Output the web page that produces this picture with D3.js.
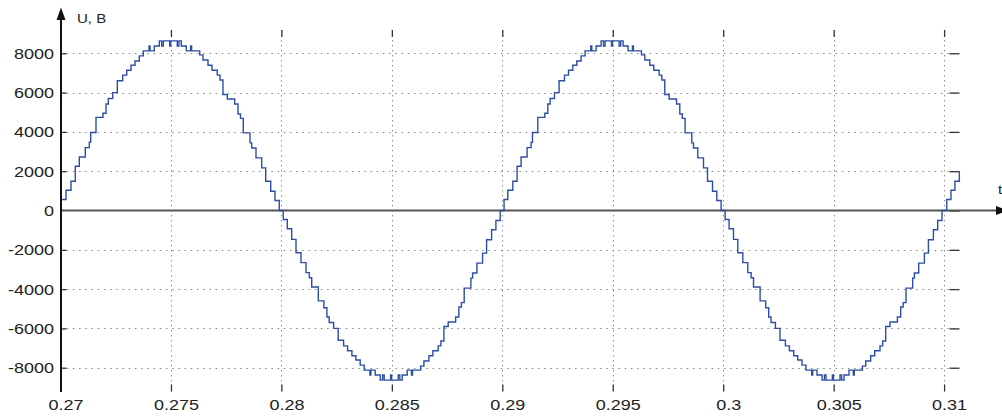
<!DOCTYPE html>
<html><head><meta charset="utf-8">
<script src="https://cdn.jsdelivr.net/npm/d3@7"></script>
<style>html,body{margin:0;padding:0;background:#fff;overflow:hidden}text{font-family:"Liberation Sans",Arial,Helvetica,sans-serif}</style>
</head><body><svg id="c" width="1002" height="416"></svg>
<script>
// ---- data ----
const xTickValues = [270, 275, 280, 285, 290, 295, 300, 305, 310]; // ms
const xTickLabels = ["0.27", "0.275", "0.28", "0.285", "0.29", "0.295", "0.3", "0.305", "0.31"];
const yTickValues = [-8000, -6000, -4000, -2000, 0, 2000, 4000, 6000, 8000];
const yTickLabels = ["-8000", "-6000", "-4000", "-2000", "0", "2000", "4000", "6000", "8000"];
const yAxisTitle = "U, В";
const xAxisTitle = "t, c";

// step waveform: switching instants (ms) and the voltage held after each (V)
const timeMs = [
  270.000,270.030,270.249,270.475,270.670,270.851,271.123,271.304,271.367,271.607,
  271.924,272.060,272.164,272.363,272.571,272.816,272.997,273.192,273.373,273.567,
  273.748,274.006,274.052,274.246,274.473,274.581,274.654,274.943,274.989,275.287,
  275.360,275.468,275.695,275.890,275.935,276.301,276.451,276.677,276.858,277.098,
  277.220,277.356,277.551,277.886,278.035,278.148,278.275,278.578,278.655,278.850,
  279.108,279.289,279.516,279.710,279.905,
  280.086,280.267,280.466,280.661,280.887,281.113,281.263,281.372,281.671,
  281.924,282.060,282.164,282.363,282.571,282.816,282.997,283.192,283.373,283.567,
  283.748,284.006,284.052,284.246,284.473,284.581,284.654,284.943,284.989,285.287,
  285.360,285.468,285.695,285.890,285.935,286.301,286.451,286.677,286.858,287.098,
  287.220,287.356,287.551,287.886,288.035,288.148,288.275,288.578,288.655,288.850,
  289.108,289.289,289.516,289.710,289.905,
  290.080,290.249,290.475,290.670,290.851,291.123,291.304,291.367,291.607,
  291.924,292.060,292.164,292.363,292.571,292.816,292.997,293.192,293.373,293.567,
  293.748,294.006,294.052,294.246,294.473,294.581,294.654,294.943,294.989,295.287,
  295.360,295.468,295.695,295.890,295.935,296.301,296.451,296.677,296.858,297.098,
  297.220,297.356,297.551,297.886,298.035,298.148,298.275,298.578,298.655,298.850,
  299.108,299.289,299.516,299.710,299.905,
  300.086,300.267,300.466,300.661,300.887,301.113,301.263,301.372,301.671,
  301.924,302.060,302.164,302.363,302.571,302.816,302.997,303.192,303.373,303.567,
  303.748,304.006,304.052,304.246,304.473,304.581,304.654,304.943,304.989,305.287,
  305.360,305.468,305.695,305.890,305.935,306.301,306.451,306.677,306.858,307.098,
  307.220,307.356,307.551,307.886,308.035,308.148,308.275,308.578,308.655,308.850,
  309.108,309.289,309.516,309.710,309.905,
  310.120,310.310,310.490,310.690
];
const voltageV = [
  0,560,1030,1490,2250,2720,3200,3470,3970,4740,
  4950,5420,5700,6000,6600,6890,7140,7390,7610,7870,
  8120,8370,8120,8370,8630,8370,8630,8370,8630,8370,
  8630,8370,8120,8370,8120,7920,7660,7390,7140,6890,
  6640,5900,5670,5420,4910,4690,3950,3440,3180,2680,
  2170,1490,980,510,0,
  -460,-930,-1470,-2150,-2650,-3160,-3420,-3890,-4600,
  -4950,-5420,-5700,-6000,-6600,-6890,-7140,-7390,-7610,-7870,
  -8120,-8370,-8120,-8370,-8630,-8370,-8630,-8370,-8630,-8370,
  -8630,-8370,-8120,-8370,-8120,-7920,-7660,-7390,-7140,-6890,
  -6640,-5900,-5670,-5420,-4910,-4690,-3950,-3440,-3180,-2680,
  -2170,-1490,-980,-510,0,
  560,1030,1490,2250,2720,3200,3470,3970,4740,
  4950,5420,5700,6000,6600,6890,7140,7390,7610,7870,
  8120,8370,8120,8370,8630,8370,8630,8370,8630,8370,
  8630,8370,8120,8370,8120,7920,7660,7390,7140,6890,
  6640,5900,5670,5420,4910,4690,3950,3440,3180,2680,
  2170,1490,980,510,0,
  -460,-930,-1470,-2150,-2650,-3160,-3420,-3890,-4600,
  -4950,-5420,-5700,-6000,-6600,-6890,-7140,-7390,-7610,-7870,
  -8120,-8370,-8120,-8370,-8630,-8370,-8630,-8370,-8630,-8370,
  -8630,-8370,-8120,-8370,-8120,-7920,-7660,-7390,-7140,-6890,
  -6640,-5900,-5670,-5420,-4910,-4690,-3950,-3440,-3180,-2680,
  -2170,-1490,-980,-510,0,
  560,1030,1490,2000
];

// ---- layout ----
const svg = d3.select("#c");
const L = 60.5, R = 959.5, T = 30, B = 391.5;
const x = d3.scaleLinear().domain([270, 310]).range([60.5, 944.1]);
const y = d3.scaleLinear().domain([-9200, 9200]).range([391.3, 29.7]);
const SX = 1.2; // horizontal stretch of the lettering

// grid
const g = svg.append("g");
g.selectAll("line.hg").data(yTickValues.filter(v => v !== 0)).enter().append("line")
  .attr("x1", L).attr("x2", R).attr("y1", d => Math.round(y(d)) + 0.5).attr("y2", d => Math.round(y(d)) + 0.5)
  .attr("stroke", "#8a8a8a").attr("stroke-width", 1).attr("stroke-dasharray", "1.6,4.6");
g.selectAll("line.vg").data(xTickValues.slice(1)).enter().append("line")
  .attr("x1", d => Math.round(x(d)) + 0.5).attr("x2", d => Math.round(x(d)) + 0.5)
  .attr("y1", T).attr("y2", B)
  .attr("stroke", "#8a8a8a").attr("stroke-width", 1).attr("stroke-dasharray", "1.4,3.6");

// frame ticks via d3 axes
const xb = d3.axisBottom(x).tickValues(xTickValues.slice(1)).tickSizeInner(-7).tickSizeOuter(0).tickFormat("");
const xt = d3.axisTop(x).tickValues(xTickValues.slice(1)).tickSizeInner(-7).tickSizeOuter(0).tickFormat("");
const yr = d3.axisRight(y).tickValues(yTickValues).tickSizeInner(-10).tickSizeOuter(0).tickFormat("");
const yl = d3.axisLeft(y).tickValues(yTickValues.filter(v => v !== 0)).tickSizeInner(-6).tickSizeOuter(0).tickFormat("");
function styleAxis(sel) { sel.select(".domain").remove(); sel.selectAll("line").attr("stroke", "#333").attr("stroke-width", 1.3); }
svg.append("g").attr("transform", `translate(0,${B})`).call(xb).call(styleAxis);
svg.append("g").attr("transform", `translate(0,${T})`).call(xt).call(styleAxis);
svg.append("g").attr("transform", `translate(${R},0)`).call(yr).call(styleAxis);
svg.append("g").attr("transform", `translate(${L},0)`).call(yl).call(styleAxis);

// zero axis with arrow
svg.append("line").attr("x1", L).attr("x2", 998).attr("y1", y(0)).attr("y2", y(0))
  .attr("stroke", "#555").attr("stroke-width", 2);
svg.append("path").attr("d", `M996,${y(0) - 4.5}L1008,${y(0)}L996,${y(0) + 4.5}Z`).attr("fill", "#111");

// signal
const line = d3.line().x(i => x(timeMs[i])).y(i => y(voltageV[i])).curve(d3.curveStepAfter);
svg.append("path").attr("d", line(d3.range(timeMs.length)))
  .attr("fill", "none").attr("stroke", "#2c4ea4").attr("stroke-width", 1.4).attr("stroke-linejoin", "miter");

// vertical axis with arrow
svg.append("line").attr("x1", 61).attr("x2", 61).attr("y1", B + 0.5).attr("y2", 16)
  .attr("stroke", "#111").attr("stroke-width", 2);
svg.append("path").attr("d", "M56.5,20L61,7.5L65.5,20Z").attr("fill", "#111");

// labels
function stretchedText(parent, tx, ty, str, size, anchor) {
  return parent.append("text").attr("transform", `translate(${tx},${ty}) scale(${SX},1)`)
    .attr("text-anchor", anchor).attr("font-size", size).attr("fill", "#222").text(str);
}
xTickValues.forEach((v, i) => stretchedText(svg, x(v) + 5.5, 410, xTickLabels[i], 15, "middle"));
yTickValues.forEach((v, i) => stretchedText(svg, 54, y(v) + 5.4, yTickLabels[i], 15, "end"));
stretchedText(svg, 77, 22.5, yAxisTitle, 12.5, "start");
stretchedText(svg, 998, 194, xAxisTitle, 12.5, "start");
</script></body></html>
